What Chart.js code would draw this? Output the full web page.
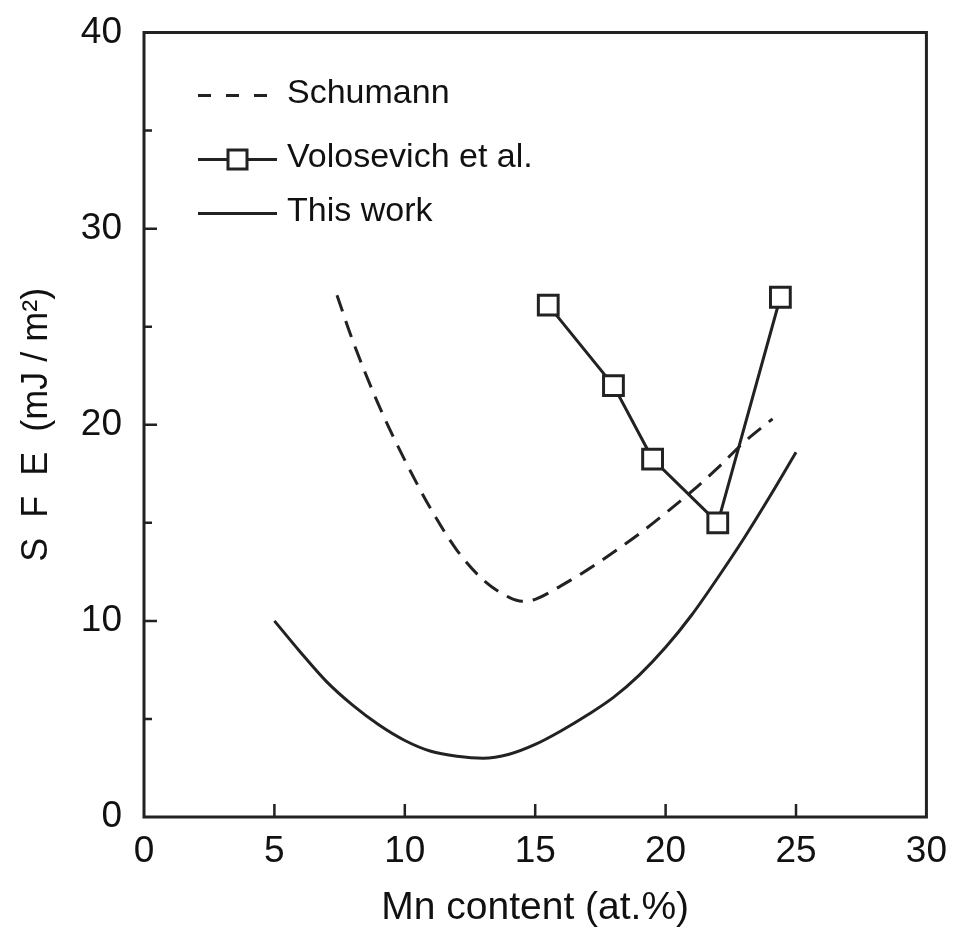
<!DOCTYPE html>
<html>
<head>
<meta charset="utf-8">
<script src="https://cdn.jsdelivr.net/npm/chart.js@4/dist/chart.umd.min.js"></script>
<style>
  html, body { margin: 0; padding: 0; background: #fff; }
  #wrap { width: 955px; height: 934px; }
</style>
</head>
<body>
<div id="wrap"><canvas id="chart" width="955" height="934"></canvas></div>
<script>
// values
const xTicks = [0, 5, 10, 15, 20, 25, 30];
const yTicks = [0, 10, 20, 30, 40];

const schumannX = [7.4, 8, 9, 10, 11, 12, 13, 14, 14.5, 15, 16, 17, 18, 19, 20, 21, 22, 23, 24.1];
const schumannY = [26.6, 24.3, 21.0, 18.2, 15.7, 13.6, 12.1, 11.2, 11.0, 11.1, 11.8, 12.6, 13.5, 14.45, 15.5, 16.6, 17.8, 19.1, 20.3];

const volosevichX = [15.5, 18.0, 19.5, 22.0, 24.4];
const volosevichY = [26.1, 22.0, 18.25, 15.0, 26.5];

const thisWorkX = [5, 6, 7, 8, 9, 10, 11, 12, 13, 14, 15, 16, 17, 18, 19, 20, 21, 22, 23, 24, 25];
const thisWorkY = [10.0, 8.4, 6.9, 5.7, 4.7, 3.9, 3.35, 3.1, 3.0, 3.2, 3.7, 4.4, 5.2, 6.1, 7.25, 8.65, 10.3, 12.2, 14.2, 16.35, 18.6];

const ink = '#222';
const textInk = '#111';
const fontFamily = '"Liberation Sans", Arial, Helvetica, sans-serif';

function toPoints(xs, ys) {
  return xs.map((x, i) => ({ x: x, y: ys[i] }));
}

// frame, inward ticks and the in-plot legend
const framePlugin = {
  id: 'framePlugin',
  afterDraw(chart) {
    const ctx = chart.ctx;
    const area = chart.chartArea;
    const xs = chart.scales.x;
    const ys = chart.scales.y;
    ctx.save();
    ctx.strokeStyle = ink;
    ctx.lineWidth = 3;
    ctx.strokeRect(area.left, area.top, area.right - area.left, area.bottom - area.top);

    ctx.lineWidth = 2.5;
    ctx.beginPath();
    for (let i = 1; i < xTicks.length - 1; i++) {
      const px = xs.getPixelForValue(xTicks[i]);
      ctx.moveTo(px, area.bottom);
      ctx.lineTo(px, area.bottom - 13);
    }
    for (let i = 0; i < yTicks.length - 1; i++) {
      const py = ys.getPixelForValue(yTicks[i]);
      const pm = ys.getPixelForValue((yTicks[i] + yTicks[i + 1]) / 2);
      if (i > 0) {
        ctx.moveTo(area.left, py);
        ctx.lineTo(area.left + 13, py);
      }
      ctx.moveTo(area.left, pm);
      ctx.lineTo(area.left + 8, pm);
    }
    ctx.stroke();

    // legend
    const rowsY = [63, 127, 181];
    const x0 = area.left + 54;
    const x1 = area.left + 133;
    ctx.font = '34px ' + fontFamily;
    ctx.textBaseline = 'middle';
    ctx.textAlign = 'left';
    chart.data.datasets.forEach((ds, i) => {
      const y = area.top + rowsY[i];
      ctx.strokeStyle = ink;
      ctx.lineWidth = 3;
      ctx.setLineDash(ds.borderDash ? [13, 15] : []);
      ctx.beginPath();
      ctx.moveTo(x0, y);
      ctx.lineTo(x1, y);
      ctx.stroke();
      ctx.setLineDash([]);
      if (ds.pointRadius > 0) {
        const s = 19;
        const cx = (x0 + x1) / 2;
        ctx.fillStyle = '#fff';
        ctx.fillRect(cx - s / 2, y - s / 2, s, s);
        ctx.strokeRect(cx - s / 2, y - s / 2, s, s);
      }
      ctx.fillStyle = textInk;
      ctx.fillText(ds.label, x1 + 10, y - 2);
    });
    ctx.restore();
  }
};

const ctx = document.getElementById('chart').getContext('2d');
new Chart(ctx, {
  type: 'line',
  data: {
    datasets: [
      {
        label: 'Schumann',
        data: toPoints(schumannX, schumannY),
        borderColor: ink,
        borderWidth: 3,
        borderDash: [17, 10],
        pointRadius: 0,
        cubicInterpolationMode: 'monotone',
        fill: false
      },
      {
        label: 'Volosevich et al.',
        data: toPoints(volosevichX, volosevichY),
        borderColor: ink,
        borderWidth: 3,
        pointStyle: 'rect',
        pointRadius: 14,
        pointBorderWidth: 3,
        pointBackgroundColor: '#fff',
        pointBorderColor: ink,
        tension: 0,
        fill: false
      },
      {
        label: 'This work',
        data: toPoints(thisWorkX, thisWorkY),
        borderColor: ink,
        borderWidth: 3,
        pointRadius: 0,
        cubicInterpolationMode: 'monotone',
        fill: false
      }
    ]
  },
  options: {
    responsive: false,
    animation: false,
    layout: { padding: { top: 30, right: 25, bottom: 0, left: 0 } },
    plugins: {
      legend: { display: false },
      tooltip: { enabled: false }
    },
    scales: {
      x: {
        type: 'linear',
        min: 0,
        max: 30,
        afterBuildTicks: (scale) => { scale.ticks = xTicks.map(v => ({ value: v })); },
        afterFit: (scale) => { scale.height = 117; },
        grid: { display: false },
        border: { display: false },
        ticks: {
          color: textInk,
          padding: 8,
          font: { family: fontFamily, size: 37, lineHeight: 1 }
        },
        title: {
          display: true,
          text: 'Mn content (at.%)',
          color: textInk,
          padding: { top: 0, bottom: 2 },
          font: { family: fontFamily, size: 39, lineHeight: 1.2 }
        }
      },
      y: {
        type: 'linear',
        min: 0,
        max: 40,
        afterBuildTicks: (scale) => { scale.ticks = yTicks.map(v => ({ value: v })); },
        afterFit: (scale) => { scale.width = 144; },
        grid: { display: false },
        border: { display: false },
        ticks: {
          color: textInk,
          padding: 14,
          font: { family: fontFamily, size: 37, lineHeight: 1 }
        },
        title: {
          display: true,
          text: 'S  F  E  (mJ / m²)',
          color: textInk,
          padding: { top: 15, bottom: 0 },
          font: { family: fontFamily, size: 36, lineHeight: 1.2 }
        }
      }
    }
  },
  plugins: [framePlugin]
});
</script>
</body>
</html>
